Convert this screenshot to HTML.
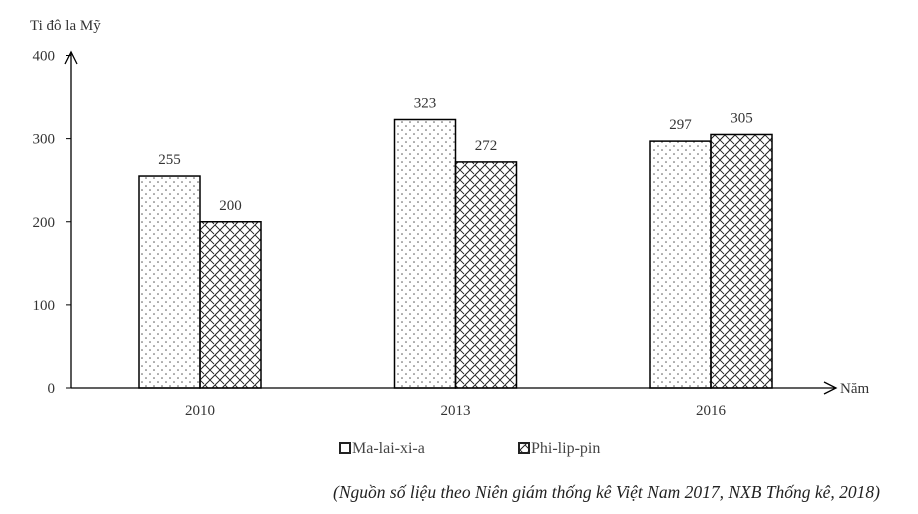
<!DOCTYPE html>
<html><head><meta charset="utf-8"><style>
body{margin:0;background:#fff;}
svg{display:block;font-family:"Liberation Serif",serif;}
</style></head><body>
<svg id="chart" width="918" height="514" viewBox="0 0 918 514" xmlns="http://www.w3.org/2000/svg">
<defs>
<pattern id="dots" width="8" height="8" patternUnits="userSpaceOnUse">
<circle cx="2" cy="2" r="0.8" fill="#555"/><circle cx="6" cy="6" r="0.8" fill="#555"/>
</pattern>
<pattern id="hatch" width="10" height="10" patternUnits="userSpaceOnUse">
<path d="M0,10 L10,0 M-2,2 L2,-2 M8,12 L12,8" stroke="#222" stroke-width="1"/>
<path d="M0,0 L4,4 M5,5 L10,10" stroke="#222" stroke-width="0.9"/>
</pattern>
</defs>
<g id="plot"></g>
</svg>
<script>
const categories = ["2010", "2013", "2016"];
const malaysia = [255, 323, 297];
const philippines = [200, 272, 305];
const yTicks = [0, 100, 200, 300, 400];

const NS = "http://www.w3.org/2000/svg";
const g = document.getElementById("plot");
const y0 = 388, yTop = 55.5, yMax = 400;
const y = v => y0 - (y0 - yTop) * v / yMax;
const xCenter = i => 200 + i * 255.5;
const barW = 61;
function el(tag, attrs, text) {
  const e = document.createElementNS(NS, tag);
  for (const k in attrs) e.setAttribute(k, attrs[k]);
  if (text !== undefined) e.textContent = text;
  g.appendChild(e);
  return e;
}
// axes
let a = el("line", {x1:71, y1:y0, x2:71, y2:52, stroke:"#000", "stroke-width":1.3});


a = el("path", {d:"M65,64 L71,52 L77,64", fill:"none", stroke:"#000", "stroke-width":1.3});


a = el("line", {x1:71, y1:y0, x2:836, y2:y0, stroke:"#000", "stroke-width":1.3});


a = el("path", {d:"M824,382 L836,388 L824,394", fill:"none", stroke:"#000", "stroke-width":1.3});


a = el("text", {x:30, y:30, "font-size":15, fill:"#333"}, "Ti đô la Mỹ");


a = el("text", {x:840, y:393, "font-size":15, fill:"#333"}, "Năm");


yTicks.forEach(t => {
  const l = el("line", {x1:66, y1:y(t), x2:71, y2:y(t), stroke:"#000"});
  
  
  const tx = el("text", {x:55, y:y(t)+5, "font-size":15, fill:"#333", "text-anchor":"end"}, String(t));
  
  
});
categories.forEach((c, i) => {
  const cx = xCenter(i);
  const r1 = el("rect", {x:cx-barW, y:y(malaysia[i]), width:barW, height:y0-y(malaysia[i]), fill:"url(#dots)", stroke:"#000", "stroke-width":1.5});
  
  
  const r2 = el("rect", {x:cx, y:y(philippines[i]), width:barW, height:y0-y(philippines[i]), fill:"url(#hatch)", stroke:"#000", "stroke-width":1.5});
  
  
  const v1 = el("text", {x:cx-barW/2, y:y(malaysia[i])-12, "font-size":15, fill:"#333", "text-anchor":"middle"}, String(malaysia[i]));
  
  
  const v2 = el("text", {x:cx+barW/2, y:y(philippines[i])-12, "font-size":15, fill:"#333", "text-anchor":"middle"}, String(philippines[i]));
  
  
  const xl = el("text", {x:cx, y:415, "font-size":15, fill:"#333", "text-anchor":"middle"}, c);
  
  
});
// legend
let lg = el("rect", {x:340, y:443, width:10, height:10, fill:"#fff", stroke:"#222", "stroke-width":2});


lg = el("text", {x:352, y:453, "font-size":16, fill:"#444"}, "Ma-lai-xi-a");


lg = el("rect", {x:519, y:443, width:10, height:10, fill:"url(#hatch)", stroke:"#222", "stroke-width":2});


lg = el("text", {x:531, y:453, "font-size":16, fill:"#444"}, "Phi-lip-pin");


lg = el("text", {x:880, y:498, "font-size":17.5, fill:"#222", "font-style":"italic", "text-anchor":"end"}, "(Nguồn số liệu theo Niên giám thống kê Việt Nam 2017, NXB Thống kê, 2018)");


</script>
</body></html>
